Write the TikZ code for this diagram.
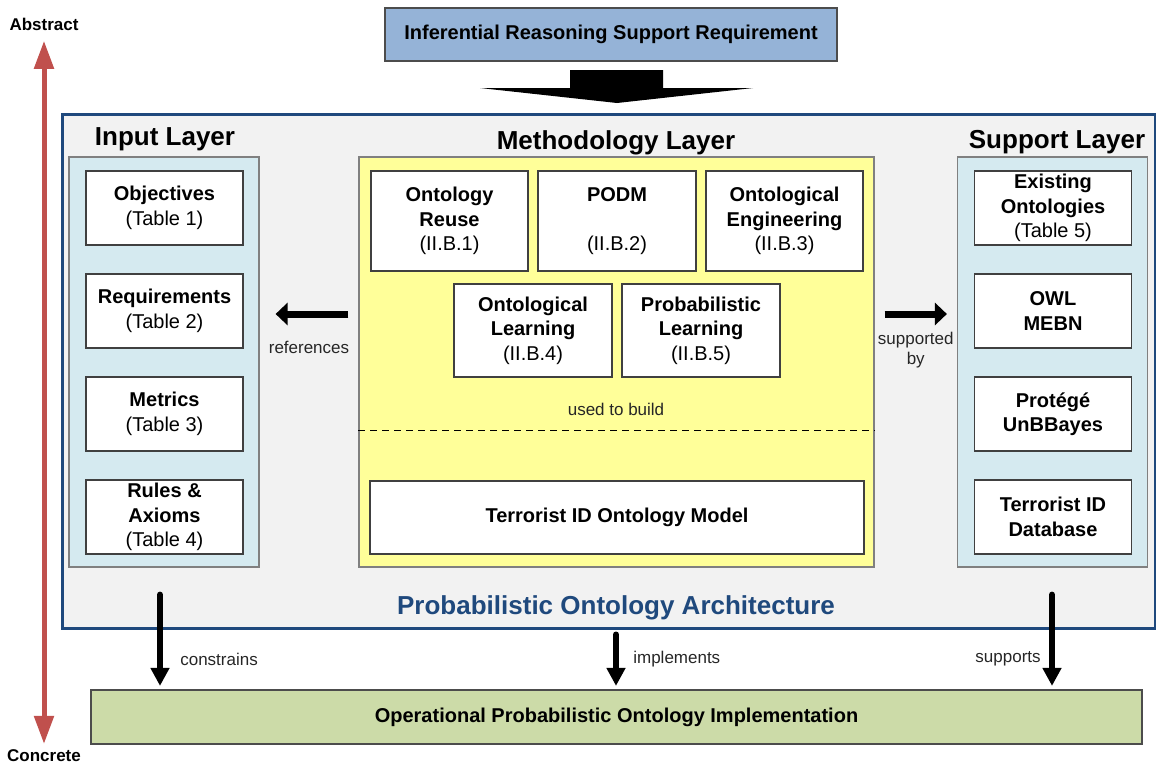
\documentclass[tikz,border=0pt]{standalone}
\usepackage{fontspec}
\setmainfont{Liberation Sans}
\usetikzlibrary{arrows.meta}

\definecolor{archblue}{RGB}{31,73,125}
\definecolor{archgrey}{RGB}{242,242,242}
\definecolor{layercyan}{RGB}{213,234,240}
\definecolor{methyellow}{RGB}{255,255,153}
\definecolor{reqblue}{RGB}{149,179,215}
\definecolor{opgreen}{RGB}{204,219,168}
\definecolor{axisred}{RGB}{192,80,77}
\definecolor{boxline}{RGB}{64,64,64}

\newcommand{\titlesize}{\fontsize{26}{30}\selectfont}
\newcommand{\boxsize}{\fontsize{20}{24.5}\selectfont}
\newcommand{\labelsize}{\fontsize{17}{20}\selectfont}

\tikzset{
    item/.style={rectangle, draw=boxline, line width=1.2pt, fill=white, align=center, inner sep=0pt, font=\boxsize},
    cell/.style={item, minimum width=157pt, minimum height=74pt},
    column/.style={rectangle, draw=gray, line width=1.2pt, fill=layercyan, minimum width=190pt, minimum height=410pt},
    title/.style={font=\titlesize\bfseries},
    lbl/.style={font=\labelsize, align=center, text=black!85},
    side/.style={line width=7pt, -{Triangle[length=12pt,width=22pt]}},
    down/.style={line width=6pt, line cap=round, -{Triangle[length=18pt,width=18pt]}},
    axis/.style={draw=axisred, line width=5pt, {Triangle[length=28pt,width=19pt]}-{Triangle[length=28pt,width=19pt]}}
}

\begin{document}
\begin{tikzpicture}


\begin{scope}[x=1pt,y=-1pt]

    \useasboundingbox (0,0) rectangle (1156,766);

    \node (top) at (611,34.5) [item, fill=reqblue, draw=gray!60!black, minimum width=452pt, minimum height=53pt, font=\boxsize\bfseries] {Inferential Reasoning Support Requirement};
    \fill (570,70) -- (663,70) -- (663,88) -- (753,88) -- (617,103) -- (480,88) -- (570,88) -- cycle;

    \node (arch) at (608.5,371) [rectangle, draw=archblue, line width=3pt, fill=archgrey, minimum width=1093pt, minimum height=514pt] {};

    \node (inlayer) at (164,362) [column] {};
    \node (meth) at (616.5,362) [column, fill=methyellow, minimum width=515pt] {};
    \node (suplayer) at (1052.5,362) [column] {};

    \node (intitle) at (165,139) [title] {Input Layer};
    \node (methtitle) at (616,142.5) [title] {Methodology Layer};
    \node (suptitle) at (1057,142.5) [title] {Support Layer};

    \node (obj) at (164.5,208) [cell] {\textbf{Objectives}\\(Table 1)};
    \node (req) at (164.5,311) [cell] {\textbf{Requirements}\\(Table 2)};
    \node (met) at (164.5,414) [cell] {\textbf{Metrics}\\(Table 3)};
    \node (rul) at (164.5,517) [cell] {\textbf{Rules \&}\\\textbf{Axioms}\\(Table 4)};

    \node (reuse) at (449.5,221) [item, minimum width=157pt, minimum height=100pt] {\textbf{Ontology}\\\textbf{Reuse}\\(II.B.1)};
    \node (podm) at (617,221) [item, minimum width=158pt, minimum height=100pt] {\textbf{PODM}\\\mbox{}\\(II.B.2)};
    \node (oeng) at (784.5,221) [item, minimum width=157pt, minimum height=100pt] {\textbf{Ontological}\\\textbf{Engineering}\\(II.B.3)};
    \node (olearn) at (533,330.5) [item, minimum width=158pt, minimum height=93pt] {\textbf{Ontological}\\\textbf{Learning}\\(II.B.4)};
    \node (plearn) at (701,330.5) [item, minimum width=158pt, minimum height=93pt] {\textbf{Probabilistic}\\\textbf{Learning}\\(II.B.5)};

    \node (used) at (616,409) [lbl] {used to build};
    \draw[dash pattern=on 7pt off 5pt, line width=1pt] ([yshift=-68pt]meth.west) -- ([yshift=-68pt]meth.east);

    \node (model) at (617,517.5) [item, minimum width=494pt, minimum height=73pt, font=\boxsize\bfseries] {Terrorist ID Ontology Model};

    \node (exist) at (1053,208) [cell] {\textbf{Existing}\\\textbf{Ontologies}\\(Table 5)};
    \node (owl) at (1053,311) [cell] {\textbf{OWL}\\\textbf{MEBN}};
    \node (tools) at (1053,414) [cell] {\textbf{Protégé}\\\textbf{UnBBayes}};
    \node (db) at (1053,517) [cell] {\textbf{Terrorist ID}\\\textbf{Database}};

    \node (archtitle) at (616,608) [title, text=archblue] {Probabilistic Ontology Architecture};

    \node (oper) at (616.5,717) [item, draw=gray!60!black, fill=opgreen, minimum width=1051pt, minimum height=54pt, font=\boxsize\bfseries] {Operational Probabilistic Ontology Implementation};

    \node (abstract) at (44,24) [font=\labelsize\bfseries] {Abstract};
    \node (concrete) at (44,756) [font=\labelsize\bfseries] {Concrete};


    \path
        ([yshift=48pt]meth.west) edge [side, shorten <=10pt, shorten >=16pt] node[lbl, below=20pt] {references} ([yshift=48pt]inlayer.east)
        ([yshift=48pt]meth.east) edge [side, shorten <=10pt, shorten >=10pt] node[lbl, below=11pt] {supported\\by} ([yshift=48pt]suplayer.west)

        ([xshift=-4pt]inlayer.south) edge [down, shorten <=27pt, shorten >=3.5pt] node[lbl, right=14pt, pos=0.75] {constrains} ([xshift=-4pt]inlayer.south |- oper.north)
        ([xshift=7.5pt]arch.south) edge [down, shorten <=5pt, shorten >=3.5pt] node[lbl, right=11pt] {implements} ([xshift=7.5pt]arch.south |- oper.north)
        ([xshift=-0.5pt]suplayer.south) edge [down, shorten <=27pt, shorten >=3.5pt] node[lbl, left=5pt, pos=0.75] {supports} ([xshift=-0.5pt]suplayer.south |- oper.north)

        (abstract) edge [axis, shorten <=7pt, shorten >=2.5pt] (concrete);

\end{scope}


\end{tikzpicture}
\end{document}
